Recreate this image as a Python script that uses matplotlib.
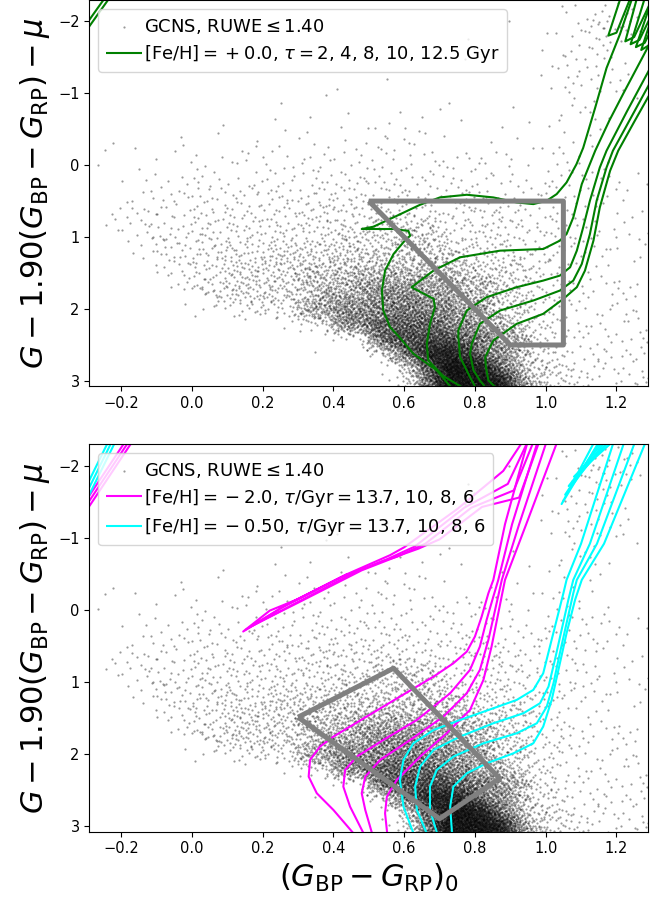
import numpy as np
import matplotlib
matplotlib.use("Agg")
import matplotlib.pyplot as plt

plt.rcParams['xtick.labelsize'] = 10.5
plt.rcParams['ytick.labelsize'] = 10.5

# ---- GCNS stars: number of stars per cell -------------------------------
# colour bins of 0.05 starting at -0.30, rows of 0.2 mag from -2.3 (top) down to 3.1
X0, DX = -0.30, 0.05
Y0, DY = -2.30, 0.20
LEVELS = {'.': 0, 'a': 14, 'b': 18, 'c': 24, 'd': 32, 'e': 42, 'f': 55, 'g': 70,
          'h': 88, 'i': 110, 'j': 140, 'k': 175, 'l': 220, 'm': 280, 'n': 350}
for d in '123456789':
    LEVELS[d] = int(d)

STAR_ROWS = [
    "...........................1121.",
    "........................1..24641",
    "..........................135421",
    ".....................1....12321.",
    "..........................123211",
    ".................1.......1132111",
    ".............11...........12211.",
    "...........1..1..1..1...1.1221..",
    "........1...1.1.1.11.1.1.12211..",
    "..1..1.1.11.11112111111.1.221...",
    ".1.1.11.112122222222111111221.1.",
    ".11111212222232333322222112211..",
    "..122233333344444433333322222211",
    "..233344444455555544444433333311",
    ".1333355555577777766666633333211",
    ".124446666668888aaaa666644433211",
    "..135577778888aaaabb888844433311",
    "..12668888aaaabbbbccc99955522211",
    "...14688aaaaccccdddcccaaa5422211",
    "....2488aaaadddffffffddaa5422221",
    ".....14aaabbbfffhhhggeeba5552222",
    "......133888ffhhhiihhffbb6622222",
    "..........1288hhjjjjhhee99333222",
    ".............135ikkkkiiff8833332",
    "............1..15gkmmlhhd8833333",
    "................13fknnmieaa33333",
    ".................2cjnnnmhd884444",
]

# ---- isochrones, (colour, G-1.90(BP-RP)-mu) -----------------------------
GREEN_2 = [(0.738, 3.12), (0.692, 2.853), (0.626, 2.621), (0.588, 2.40), (0.560, 2.25),
           (0.541, 2.02), (0.537, 1.743), (0.546, 1.466), (0.570, 1.235), (0.600, 1.06),
           (0.617, 0.981), (0.612, 0.915), (0.570, 0.888), (0.480, 0.888), (0.513, 0.856),
           (0.570, 0.726), (0.645, 0.551), (0.701, 0.449), (0.777, 0.412), (0.852, 0.449),
           (0.918, 0.519), (0.965, 0.542), (1.003, 0.495), (1.031, 0.403), (1.059, 0.241),
           (1.087, -0.013), (1.106, -0.24), (1.14, -0.8), (1.172, -1.35), (1.21, -1.82),
           (1.25, -2.40)]
GREEN_4 = [(0.775, 3.12), (0.71, 2.93), (0.668, 2.715), (0.664, 2.483), (0.673, 2.206),
           (0.687, 1.975), (0.683, 1.859), (0.621, 1.697), (0.683, 1.466), (0.758, 1.281),
           (0.871, 1.189), (0.993, 1.166), (1.04, 1.05), (1.059, 0.958), (1.078, 0.727),
           (1.102, 0.264), (1.14, -0.2), (1.18, -0.62), (1.22, -1.0), (1.29, -1.65),
           (1.31, -1.85)]
GREEN_8 = [(0.805, 3.12), (0.786, 2.946), (0.758, 2.668), (0.753, 2.391), (0.753, 2.298),
           (0.777, 2.021), (0.833, 1.836), (0.918, 1.697), (0.993, 1.605), (1.040, 1.536),
           (1.069, 1.42), (1.088, 1.189), (1.106, 0.865), (1.125, 0.495), (1.153, 0.033),
           (1.172, -0.2), (1.23, -0.75), (1.29, -1.3), (1.32, -1.6)]
GREEN_10 = [(0.835, 3.12), (0.815, 3.0), (0.796, 2.853), (0.786, 2.622), (0.791, 2.483),
            (0.814, 2.206), (0.871, 2.021), (0.965, 1.882), (1.040, 1.744), (1.078, 1.605),
            (1.102, 1.374), (1.125, 0.958), (1.144, 0.495), (1.172, 0.033), (1.19, -0.2),
            (1.24, -0.65), (1.29, -1.1), (1.32, -1.4)]
GREEN_12 = [(0.865, 3.12), (0.838, 2.992), (0.831, 2.807), (0.829, 2.668), (0.852, 2.437),
            (0.918, 2.206), (0.993, 2.067), (1.050, 1.859), (1.088, 1.697), (1.111, 1.466),
            (1.135, 1.05), (1.153, 0.588), (1.182, 0.079), (1.205, -0.2), (1.25, -0.6),
            (1.29, -0.95), (1.32, -1.2)]
# red clump loops and the blue tail in the corner
GREEN_EXTRA = [[(1.22, -2.45), (1.177, -1.80), (1.20, -1.84), (1.25, -2.45)],
               [(1.265, -2.45), (1.225, -1.72), (1.25, -1.78), (1.30, -2.3)],
               [(1.285, -2.4), (1.24, -1.68), (1.265, -1.74), (1.31, -2.2)],
               [(1.30, -2.3), (1.255, -1.64), (1.28, -1.70), (1.32, -2.1)],
               [(1.31, -2.2), (1.27, -1.60), (1.29, -1.66), (1.33, -2.0)],
               [(-0.31, -1.88), (-0.235, -2.4)],
               [(-0.297, -1.88), (-0.222, -2.4)]]

MAG_6 = [(0.465, 3.15), (0.400, 2.778), (0.353, 2.546), (0.330, 2.315), (0.334, 2.083),
         (0.362, 1.898), (0.400, 1.759), (0.494, 1.481), (0.588, 1.204), (0.683, 0.926),
         (0.739, 0.741), (0.777, 0.579), (0.800, 0.370), (0.819, 0.093), (0.838, -0.231),
         (0.852, -0.417), (0.885, -1.19), (0.947, -2.3), (0.955, -2.45)]
MAG_8 = [(0.49, 3.15), (0.447, 2.731), (0.428, 2.454), (0.433, 2.222), (0.466, 2.037),
         (0.541, 1.806), (0.636, 1.528), (0.730, 1.157), (0.786, 0.833), (0.814, 0.509),
         (0.833, 0.139), (0.852, -0.185), (0.866, -0.417), (0.905, -1.19), (0.975, -2.3),
         (0.985, -2.45)]
MAG_10 = [(0.512, 3.15), (0.490, 2.778), (0.480, 2.546), (0.490, 2.315), (0.532, 2.083),
          (0.617, 1.806), (0.711, 1.481), (0.777, 1.157), (0.814, 0.833), (0.838, 0.417),
          (0.857, 0.0), (0.876, -0.417), (0.925, -1.19), (1.0, -2.3), (1.01, -2.45)]
MAG_13 = [(0.553, 3.15), (0.546, 2.824), (0.551, 2.593), (0.579, 2.361), (0.645, 2.037),
          (0.720, 1.713), (0.786, 1.389), (0.824, 0.972), (0.847, 0.509), (0.866, 0.046),
          (0.885, -0.417), (0.945, -1.19), (1.03, -2.3), (1.04, -2.45)]
# horizontal branch / AGB pieces and the blue tail in the corner
MAG_EXTRA = [[(0.44, -0.50), (0.27, -0.08), (0.145, 0.30), (0.22, 0.01), (0.30, -0.15),
              (0.44, -0.50), (0.56, -0.76), (0.60, -0.87), (0.75, -1.40), (0.88, -1.93),
              (0.95, -2.45)],
             [(0.15, 0.28), (0.25, -0.02), (0.42, -0.45), (0.52, -0.64), (0.55, -0.70),
              (0.63, -0.88), (0.77, -1.42), (0.893, -1.75), (0.96, -2.45)],
             [(0.16, 0.25), (0.28, -0.06), (0.46, -0.52), (0.54, -0.68), (0.58, -0.74),
              (0.66, -0.92), (0.79, -1.42), (0.91, -1.66), (0.975, -2.45)],
             [(0.17, 0.22), (0.30, -0.10), (0.48, -0.55), (0.60, -0.78), (0.64, -0.85),
              (0.70, -0.98), (0.82, -1.43), (0.925, -1.56), (0.99, -2.45)],
             [(-0.31, -1.44), (-0.18, -2.4)],
             [(-0.30, -1.44), (-0.17, -2.4)],
             [(-0.29, -1.44), (-0.16, -2.4)]]

CYAN_6 = [(0.63, 3.15), (0.598, 2.731), (0.588, 2.361), (0.598, 2.083), (0.626, 1.852),
          (0.683, 1.667), (0.758, 1.528), (0.852, 1.366), (0.918, 1.250), (0.965, 1.111),
          (0.993, 0.880), (1.012, 0.509), (1.031, 0.139), (1.050, -0.231), (1.059, -0.417),
          (1.10, -0.92), (1.19, -2.3), (1.2, -2.45)]
CYAN_8 = [(0.668, 3.15), (0.636, 2.778), (0.631, 2.454), (0.645, 2.176), (0.683, 1.944),
          (0.758, 1.759), (0.852, 1.574), (0.937, 1.435), (0.984, 1.296), (1.008, 1.065),
          (1.026, 0.694), (1.045, 0.278), (1.064, -0.139), (1.078, -0.417), (1.125, -0.92),
          (1.22, -2.3), (1.23, -2.45)]
CYAN_10 = [(0.696, 3.15), (0.673, 2.778), (0.673, 2.454), (0.692, 2.222), (0.739, 2.037),
           (0.824, 1.852), (0.918, 1.713), (0.975, 1.574), (1.003, 1.343), (1.022, 1.019),
           (1.040, 0.602), (1.059, 0.185), (1.078, -0.231), (1.088, -0.417), (1.145, -0.92),
           (1.25, -2.3), (1.26, -2.45)]
CYAN_13 = [(0.736, 3.15), (0.730, 2.731), (0.739, 2.454), (0.777, 2.269), (0.833, 2.130),
           (0.909, 1.991), (0.965, 1.852), (0.993, 1.620), (1.017, 1.250), (1.036, 0.833),
           (1.059, 0.324), (1.083, -0.139), (1.102, -0.417), (1.165, -0.92), (1.28, -2.3),
           (1.29, -2.45)]
CYAN_EXTRA = [[(1.15, -2.45), (1.045, -1.47), (1.165, -2.45)],
              [(1.17, -2.45), (1.055, -1.60), (1.185, -2.45)],
              [(1.18, -2.45), (1.065, -1.72), (1.20, -2.45)],
              [(1.20, -2.45), (1.08, -1.85), (1.215, -2.45)],
              [(-0.31, -1.60), (-0.23, -2.4)],
              [(-0.30, -1.60), (-0.22, -2.4)],
              [(-0.29, -1.60), (-0.21, -2.4)]]

# selection boxes
BOX_TOP = [(0.50, 0.50), (1.05, 0.50), (1.05, 2.50), (0.90, 2.50), (0.50, 0.50)]
BOX_BOTTOM = [(0.30, 1.49), (0.57, 0.81), (0.87, 2.34), (0.70, 2.90), (0.30, 1.49)]

LABEL_STARS = r'GCNS, RUWE$\leq 1.40$'
LABEL_GREEN = r'$[{\rm Fe/H}]=\:+\:0.0$, $\tau=2$, 4, 8, 10, 12.5 Gyr'
LABEL_MAG = r'$[{\rm Fe/H}]=\:-\:2.0$, $\tau/{\rm Gyr}=13.7$, 10, 8, 6'
LABEL_CYAN = r'$[{\rm Fe/H}]=\:-\:0.50$, $\tau/{\rm Gyr}=13.7$, 10, 8, 6'
YLABEL = r'$G-1.90(G_{\rm BP}-G_{\rm RP})-\mu$'
XLABEL = r'$(G_{\rm BP}-G_{\rm RP})_0$'


def halton(n, base):
    idx = np.arange(1, n + 1)
    out = np.zeros(n)
    f = 1.0 / base
    while np.any(idx > 0):
        out += f * (idx % base)
        idx //= base
        f /= base
    return out


def star_points():
    # spread the counted stars over the plane: evenly filled candidates,
    # kept in proportion to the counts of the table
    grid = np.array([[LEVELS[c] for c in r.ljust(32, '.')[:32]] for r in STAR_ROWS], float)
    nrow, ncol = grid.shape
    top = grid.max()
    w, h = DX * ncol, DY * nrow
    n = int(top / (DX * DY) * w * h)
    x = X0 + w * halton(n, 2)
    y = Y0 + h * halton(n, 3)
    keep = halton(n, 5)
    fi = np.clip((x - X0) / DX - 0.5, 0, ncol - 1.001)
    fj = np.clip((y - Y0) / DY - 0.5, 0, nrow - 1.001)
    i0, j0 = fi.astype(int), fj.astype(int)
    ti, tj = fi - i0, fj - j0
    d = (grid[j0, i0] * (1 - ti) * (1 - tj) + grid[j0, i0 + 1] * ti * (1 - tj)
         + grid[j0 + 1, i0] * (1 - ti) * tj + grid[j0 + 1, i0 + 1] * ti * tj)
    m = keep < d / top
    return x[m], y[m]


def line(ax, pts, color, lw=1.5, label=None, z=2):
    x, y = np.array(pts).T
    ax.plot(x, y, color=color, lw=lw, label=label, zorder=z, solid_capstyle='butt')


sx, sy = star_points()

fig = plt.figure(figsize=(6.66, 9.01), dpi=100)
ax1 = fig.add_axes([0.1341, 0.5716, 0.8393, 0.4280])
ax2 = fig.add_axes([0.1341, 0.0769, 0.8393, 0.4300])

for ax in (ax1, ax2):
    ax.scatter(sx, sy, s=2.5, c='k', alpha=0.4, lw=0, label=LABEL_STARS, zorder=1)

# top panel: solar metallicity
for k, trk in enumerate([GREEN_2, GREEN_4, GREEN_8, GREEN_10, GREEN_12]):
    line(ax1, trk, 'green', label=LABEL_GREEN if k == 0 else None)
for seg in GREEN_EXTRA:
    line(ax1, seg, 'green')
line(ax1, BOX_TOP, 'gray', lw=3.6, z=3)

# bottom panel: metal poor
for k, trk in enumerate([MAG_6, MAG_8, MAG_10, MAG_13]):
    line(ax2, trk, 'magenta', label=LABEL_MAG if k == 0 else None)
for seg in MAG_EXTRA:
    line(ax2, seg, 'magenta')
for k, trk in enumerate([CYAN_6, CYAN_8, CYAN_10, CYAN_13]):
    line(ax2, trk, 'cyan', label=LABEL_CYAN if k == 0 else None)
for seg in CYAN_EXTRA:
    line(ax2, seg, 'cyan')
line(ax2, BOX_BOTTOM, 'gray', lw=3.6, z=3)

ax1.set_ylim(3.07, -2.29)
ax2.set_ylim(3.08, -2.30)
for ax in (ax1, ax2):
    ax.set_xlim(-0.29, 1.29)
    ax.set_ylabel(YLABEL, fontsize=22)
    ax.legend(loc='upper left', fontsize=13, handletextpad=0.15, labelspacing=0.4)
ax2.set_xlabel(XLABEL, fontsize=22)

fig.savefig('out.png', dpi=100)
